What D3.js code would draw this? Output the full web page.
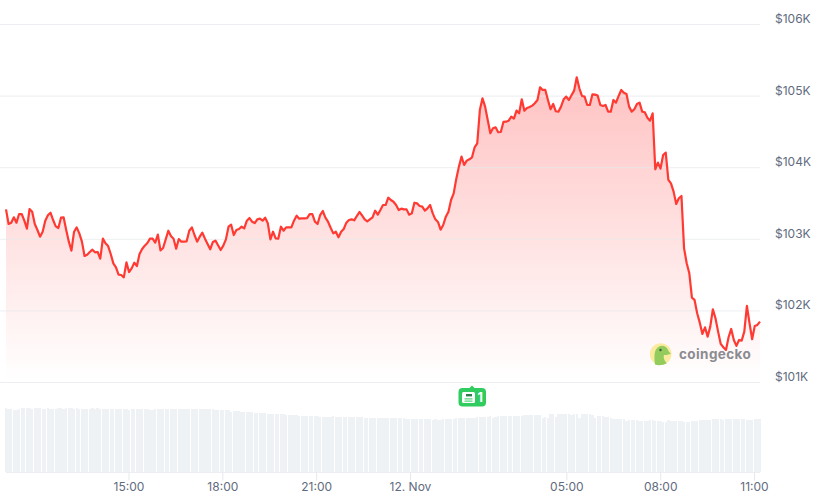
<!DOCTYPE html>
<html><head><meta charset="utf-8">
<script src="https://cdn.jsdelivr.net/npm/d3@7"></script>
<style>
html,body{margin:0;padding:0;background:#fff}
svg{display:block}
text{font-family:Inter,"Noto Sans",sans-serif}
</style></head><body>
<svg id="c" width="825" height="497"></svg>
<script>
const prices = [
103411,103207,103225,103300,103225,103346,103346,103253,103141,103416,
103379,103207,103123,103030,103099,103253,103328,103365,103262,103174,
103151,103295,103300,103123,102960,102834,103099,103160,103076,102960,
102760,102778,102816,102848,102811,102816,102722,103002,102937,102899,
102788,102657,102601,102499,102494,102462,102671,102536,102587,102667,
102620,102788,102857,102904,102941,103002,103002,102946,103058,102839,
102871,102992,103113,103039,103002,102862,102997,102960,102960,102965,
103113,103160,103053,102960,103030,103085,103002,102927,102853,102955,
102974,102909,102843,102904,102992,103169,103197,103053,103123,103137,
103169,103146,103253,103290,103239,103220,103272,103281,103253,103295,
103216,102992,
103099,103006,103002,103169,103113,103160,103160,103160,103253,103323,
103281,103286,103286,103290,103346,103346,103239,103207,103332,103388,
103295,103239,103155,103076,103099,103020,103099,103137,103225,103262,
103272,103258,103318,103374,103328,103272,103244,103272,103300,103393,
103337,103402,103472,103472,103574,103542,103518,103472,103402,103421,
103411,103411,103337,103355,103504,103495,103458,103449,103393,103425,
103472,103355,103272,103235,103127,103193,103309,103379,103542,103635,
103840,104008,104148,104031,104092,104110,104138,104278,104334,104799,
104962,104846,104660,104474,104543,104557,104488,104492,104632,104636,
104650,104706,104678,104790,104753,104948,104790,104827,104841,104860,
104893,104939,105116,105079,105079,104939,104809,104883,104781,104776,
104846,104948,104986,104939,105004,105069,105256,105102,104995,104986,
104869,104869,105018,105014,105000,104869,104855,104869,104776,104776,
104939,104902,104995,105079,105041,105023,104846,104776,104809,104883,
104902,104776,104767,104692,104650,104753,103971,104064,103980,104171,
104204,103822,
103775,103659,103487,103566,103598,102867,102658,102518,102178,102146,
101960,101829,101671,101764,101634,101773,102016,101890,101704,101532,
101485,101448,101625,101741,101587,101504,101587,101578,101704,102062,
101820,101597,101783,101797,101843];
const volumes = [
64,63,63,62,62,63,64,64,64,64,
63,64,64,64,63,63,64,63,63,63,
64,64,63,64,64,64,63,64,63,63,
63,63,63,64,63,64,63,63,63,63,
63,63,63,63,63,63,63,62,63,63,
63,63,63,63,63,62,62,63,63,63,
63,63,63,63,63,63,63,63,63,63,
63,63,63,63,63,63,63,63,63,63,
62,62,62,62,62,62,60,61,61,61,
60,60,60,60,60,59,59,59,59,59,
58,58,58,58,58,58,58,57,57,57,
57,57,56,56,56,56,56,56,56,56,
55,55,55,55,55,56,55,55,55,55,
55,55,55,55,55,55,55,54,54,54,
54,54,54,54,54,54,54,54,54,54,
54,54,54,53,53,53,53,53,53,53,
53,53,53,52,53,52,52,53,53,53,
53,53,54,54,54,54,54,54,54,54,
55,55,55,55,55,56,54,55,56,56,
56,56,56,56,56,56,56,56,57,57,
57,57,57,57,57,54,55,54,58,58,
55,58,58,58,58,58,57,58,58,54,
58,58,58,58,57,54,56,56,56,55,
55,54,53,53,53,53,53,51,52,52,
52,52,51,51,51,51,52,52,51,51,
51,50,50,52,51,51,51,51,51,50,
50,50,51,51,51,52,52,52,52,52,
53,53,53,53,52,53,53,53,53,53,
53,53,53,52,52,52,53,53,53];
const priceTicks = [101000,102000,103000,104000,105000,106000];
const priceLabels = ["$101K","$102K","$103K","$104K","$105K","$106K"];
const timeTickLabels = ["15:00","18:00","21:00","12. Nov","05:00","08:00","11:00"];
const timeTickHours = [15,18,21,24,29,32,35];
const newsCount = "1";
const brand = "coingecko";

const startMs = Date.UTC(2024,10,11,11,5);
const stepMs = 1446.5/288*60000;
const times = prices.map((_,i)=>new Date(startMs+i*stepMs));
const tickTimes = timeTickHours.map(h=>new Date(Date.UTC(2024,10,11)+h*3600000));

const svg = d3.select("#c");
const x = d3.scaleUtc().domain([times[0],times[times.length-1]]).range([6,760]);
const y = d3.scaleLinear().domain([101000,106000]).range([382,24]);
const v = d3.scaleLinear().domain([0,64]).range([472,408]);

const defs = svg.append("defs");
const grad = defs.append("linearGradient").attr("id","g").attr("gradientUnits","userSpaceOnUse")
  .attr("x1",0).attr("x2",0).attr("y1",y(d3.max(prices))).attr("y2",382);
grad.append("stop").attr("offset",0).attr("stop-color","#ff0000").attr("stop-opacity",0.24);
grad.append("stop").attr("offset",1).attr("stop-color","#ff0000").attr("stop-opacity",0);

// volume bars
svg.append("g").selectAll("rect").data(volumes).join("rect")
  .attr("x",(d,i)=>Math.round(x(times[i])-1.15))
  .attr("width",(d,i)=>Math.round(x(times[i])+1.15)-Math.round(x(times[i])-1.15))
  .attr("y",d=>Math.round(v(d)))
  .attr("height",d=>472-Math.round(v(d)))
  .attr("fill","#eff2f5");

// area
svg.append("path").datum(prices).attr("fill","url(#g)")
  .attr("d",d3.area().x((d,i)=>x(times[i])).y0(382).y1(d=>y(d)));

// y axis + grid
const yAxis = d3.axisRight(y).tickValues(priceTicks).tickFormat((d,i)=>priceLabels[i]).tickSize(-760).tickPadding(15);
const gy = svg.append("g").attr("transform","translate(760,0)").call(yAxis);
gy.select(".domain").remove();
gy.selectAll("line").attr("stroke","#e6e8ec").attr("stroke-opacity",0.75);
gy.selectAll("text").attr("fill","#5f6b7e").attr("font-size",12).attr("font-family","Inter").attr("dy","-0.12em").attr("text-anchor","start");

// x axis
const xAxis = d3.axisBottom(x).tickValues(tickTimes).tickFormat((d,i)=>timeTickLabels[i]).tickSize(8).tickPadding(2);
const gx = svg.append("g").attr("transform","translate(0,472.5)").call(xAxis);
gx.select(".domain").attr("stroke","#eceef1").attr("d","M6,0H760");
gx.selectAll("line").attr("stroke","#e6e8ec");
gx.selectAll("text").attr("fill","#5f6b7e").attr("font-size",12).attr("font-family","Inter");

// line
svg.append("path").datum(prices).attr("fill","none").attr("stroke","#ff3a33").attr("stroke-width",2.2)
  .attr("stroke-linejoin","round")
  .attr("d",d3.line().x((d,i)=>x(times[i])).y(d=>y(d)));

// news flag
const flag = svg.append("g");
flag.append("path").attr("fill","#31cc5f")
  .attr("d","M462.5,388H469.5L472,385.5L474.5,388H482A4,4 0 0 1 486,392V402.5A4,4 0 0 1 482,406.5H462.5A4,4 0 0 1 458.5,402.5V392A4,4 0 0 1 462.5,388Z");
flag.append("rect").attr("x",462).attr("y",392).attr("width",13).attr("height",11).attr("rx",1.5).attr("fill","#fff");
flag.append("rect").attr("x",466).attr("y",394).attr("width",6).attr("height",2.4).attr("fill","#2e7d4f");
flag.append("rect").attr("x",464.5).attr("y",398.4).attr("width",8).attr("height",1).attr("fill","#31cc5f");
flag.append("rect").attr("x",464.5).attr("y",400.6).attr("width",8).attr("height",1).attr("fill","#31cc5f");
flag.append("text").attr("x",477.5).attr("y",402).attr("fill","#fff").attr("font-size",12.5).attr("font-weight",700).text(newsCount);

// watermark
const logo = svg.append("g");
logo.append("circle").attr("cx",660.7).attr("cy",354).attr("r",10.8).attr("fill","#fbeba0");
logo.append("path").attr("fill","#93cc5c")
  .attr("d","M655,364.5C654,356 654,349 659,346.5C663,344.5 667,347 668,350C669,352 670,353 671,353.5C669,355 666,355 664,355C663,358 665,362 667,363C663,365.5 658,365.8 655,364.5Z");
logo.append("circle").attr("cx",660.5).attr("cy",350).attr("r",1.2).attr("fill","#3a5a3a");
logo.append("text").attr("x",679).attr("y",358.5).attr("fill","#8b8b90").attr("font-size",13.5).attr("font-weight",700).attr("letter-spacing",0.4).text(brand);
</script>
</body></html>
